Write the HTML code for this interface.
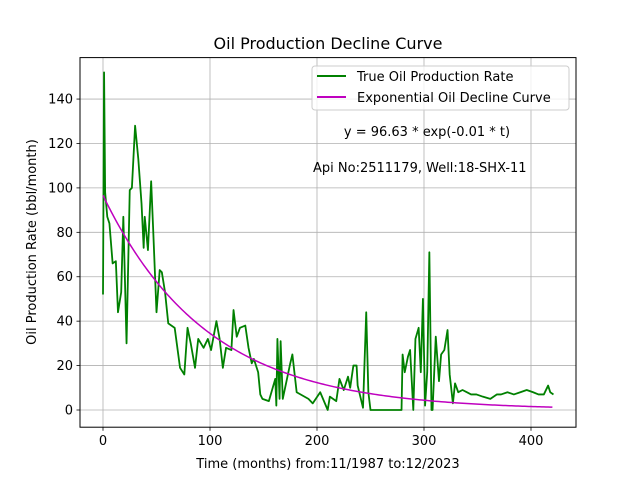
<!DOCTYPE html>
<html><head><meta charset="utf-8"><style>
body{margin:0;background:#fff}
svg{display:block;font-family:"DejaVu Sans","Liberation Sans",sans-serif}
</style></head><body>
<svg id="chart" width="640" height="480" viewBox="0 0 640 480" xmlns="http://www.w3.org/2000/svg">
<rect width="640" height="480" fill="#fff"/>
<g id="grid"></g>
<g id="series"></g>
<rect x="80" y="57.6" width="496" height="369.6" fill="none" stroke="#000" stroke-width="1"/>
<g id="ticks"></g>
<text x="328" y="49" font-size="16" text-anchor="middle">Oil Production Decline Curve</text>
<text x="328" y="468" font-size="13" text-anchor="middle">Time (months) from:11/1987 to:12/2023</text>
<text transform="translate(36,242) rotate(-90)" font-size="13" text-anchor="middle">Oil Production Rate (bbl/month)</text>
<g>
<rect x="312" y="66" width="257" height="44" rx="3" fill="#fff" fill-opacity="0.8" stroke="#ccc"/>
<line x1="317" y1="76" x2="346" y2="76" stroke="#008000" stroke-width="2"/>
<text x="357" y="81" font-size="13">True Oil Production Rate</text>
<line x1="317" y1="97" x2="346" y2="97" stroke="#bf00bf" stroke-width="2"/>
<text x="357" y="102" font-size="13">Exponential Oil Decline Curve</text>
</g>
<text x="427" y="136" font-size="13" text-anchor="middle">y = 96.63 * exp(-0.01 * t)</text>
<text x="313" y="172" font-size="13">Api No:2511179, Well:18-SHX-11</text>
</svg>
<script>
const months=[0,1,2,4,6,9,12,14,17,19,22,25,27,30,33,36,38,39,42,45,47,50,53,55,58,61,67,72,76,79,82,86,89,94,98,101,106,109,112,115,120,122,125,128,133,136,139,141,145,147,149,155,161,162,163,165,166,168,175,177,181,192,196,203,210,212,218,221,225,229,231,234,237,238,243,246,248,250,279,280,282,285,287,290,292,295,297,299,301,303,305,307,308,311,314,316,319,322,324,327,329,332,336,340,344,349,355,362,368,372,378,384,390,396,402,407,412,416,418,421];
const rates=[52,152,98,87,84,66,67,44,53,87,30,99,100,128,113,93,73,87,72,103,80,44,63,62,53,39,37,19,16,37,30,19,32,28,32,27,40,32,19,28,27,45,33,37,38,28,21,23,17,7,5,4,14,2,32,5,31,5,21,25,8,5,3,8,0,6,4,14,9,15,10,20,20,11,1,44,8,0,0,25,17,24,27,0,32,37,17,50,2,17,71,0,0,33,13,25,27,36,16,3,12,8,9,8,7,7,6,5,7,7,8,7,8,9,8,7,7,11,8,7];
const fitA=[96.63];
const fitK=[0.0103];
const xTicks=[0,100,200,300,400];
const yTicks=[0,20,40,60,80,100,120,140];
const NS="http://www.w3.org/2000/svg";
function X(t){return 103+t*1.07;}
function Y(v){return 410-v*2.221;}
const grid=document.getElementById('grid'),ticks=document.getElementById('ticks'),series=document.getElementById('series');
function mk(tag,attrs,parent){const e=document.createElementNS(NS,tag);for(const k in attrs)e.setAttribute(k,attrs[k]);parent.appendChild(e);return e;}
xTicks.forEach(t=>{
 const g=mk('line',{x1:X(t),x2:X(t),y1:57.6,y2:427.2,stroke:'#b0b0b0','stroke-width':0.8},grid);
 
 
 const tk=mk('line',{x1:X(t),x2:X(t),y1:427.2,y2:430.7,stroke:'#000','stroke-width':0.8},ticks);
 
 
 const tx=mk('text',{x:X(t),y:445,'font-size':13,'text-anchor':'middle'},ticks);
 tx.textContent=t;
 
 
});
yTicks.forEach(v=>{
 const g=mk('line',{x1:80,x2:576,y1:Y(v),y2:Y(v),stroke:'#b0b0b0','stroke-width':0.8},grid);
 
 
 const tk=mk('line',{x1:76.5,x2:80,y1:Y(v),y2:Y(v),stroke:'#000','stroke-width':0.8},ticks);
 
 
 const tx=mk('text',{x:73,y:Y(v)+4.5,'font-size':13,'text-anchor':'end'},ticks);
 tx.textContent=v;
 
 
});
const p1=mk('polyline',{points:months.map((t,i)=>X(t)+','+Y(rates[i])).join(' '),fill:'none',stroke:'#008000','stroke-width':1.8,'stroke-linejoin':'round'},series);


const tEnd=months[months.length-1];const pts=[];
for(let t=0;t<=tEnd;t+=2)pts.push(X(t)+','+Y(fitA[0]*Math.exp(-fitK[0]*t)));
const p2=mk('polyline',{points:pts.join(' '),fill:'none',stroke:'#bf00bf','stroke-width':1.5},series);


</script>
</body></html>
